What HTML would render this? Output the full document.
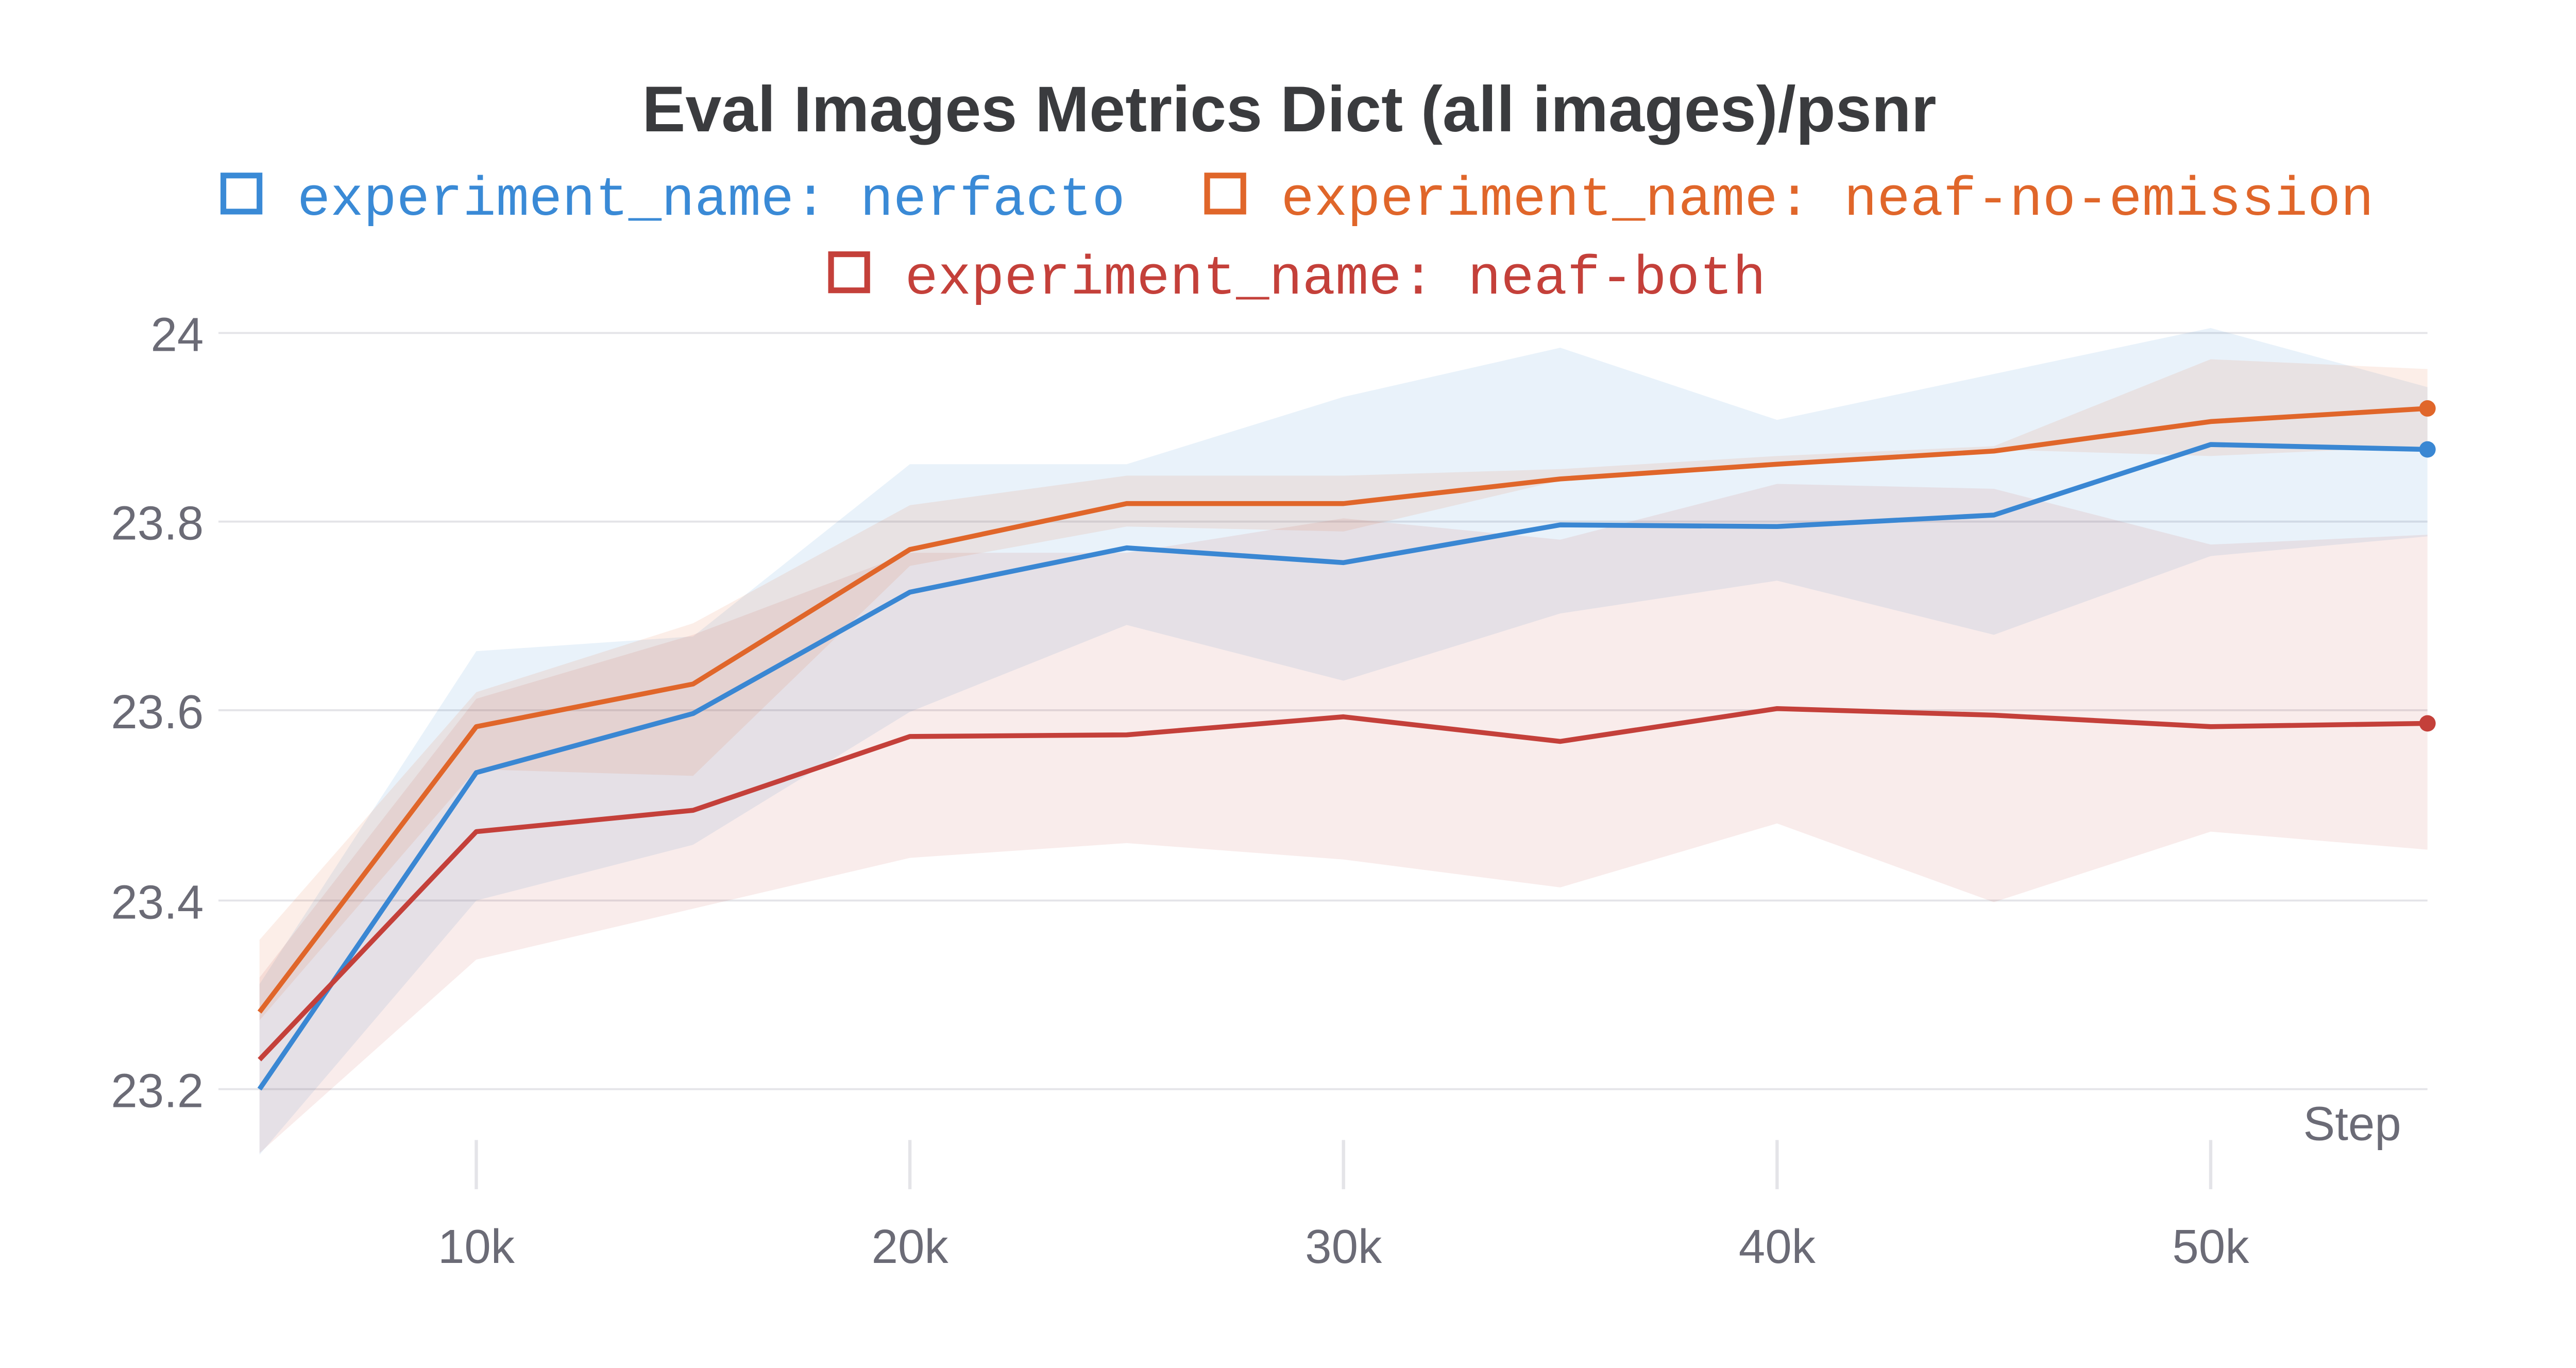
<!DOCTYPE html>
<html><head><meta charset="utf-8"><style>html,body{margin:0;padding:0;background:#fff}svg{display:block}</style></head>
<body>
<svg width="5056" height="2656" viewBox="0 0 1586 834" preserveAspectRatio="none" xmlns="http://www.w3.org/2000/svg">
<rect width="1586" height="834" fill="#fff"/>
<text x="785" y="80" text-anchor="middle" font-family="Liberation Sans, sans-serif" font-weight="bold" font-size="39.5" fill="#3a3b3e">Eval Images Metrics Dict (all images)/psnr</text>
<g font-family="Liberation Mono, monospace" font-size="33.6">
<rect x="136" y="107" width="22" height="22" fill="none" stroke="#3a8ad6" stroke-width="3.5"/>
<text x="181" y="131" fill="#3a8ad6">experiment_name: nerfacto</text>
<rect x="735" y="107" width="22" height="22" fill="none" stroke="#e0662a" stroke-width="3.5"/>
<text x="780" y="131" fill="#e0662a">experiment_name: neaf-no-emission</text>
<rect x="506" y="155" width="22" height="22" fill="none" stroke="#c4403a" stroke-width="3.5"/>
<text x="551" y="179" fill="#c4403a">experiment_name: neaf-both</text>
</g>
<g stroke="#e4e4e8" stroke-width="1.2">
<line x1="133" y1="203" x2="1478" y2="203"/><line x1="133" y1="318" x2="1478" y2="318"/>
<line x1="133" y1="433" x2="1478" y2="433"/><line x1="133" y1="549" x2="1478" y2="549"/>
<line x1="133" y1="664" x2="1478" y2="664"/>
</g>
<g stroke="#e4e4e8" stroke-width="2">
<line x1="290" y1="695" x2="290" y2="725"/><line x1="554" y1="695" x2="554" y2="725"/>
<line x1="818" y1="695" x2="818" y2="725"/><line x1="1082" y1="695" x2="1082" y2="725"/>
<line x1="1346" y1="695" x2="1346" y2="725"/>
</g>
<g font-family="Liberation Sans, sans-serif" font-size="29" fill="#6b6b76">
<text x="124" y="214" text-anchor="end">24</text>
<text x="124" y="329" text-anchor="end">23.8</text>
<text x="124" y="444" text-anchor="end">23.6</text>
<text x="124" y="560" text-anchor="end">23.4</text>
<text x="124" y="675" text-anchor="end">23.2</text>
<text x="1462" y="695" text-anchor="end">Step</text>
<g text-anchor="middle">
<text x="290" y="770">10k</text><text x="554" y="770">20k</text><text x="818" y="770">30k</text><text x="1082" y="770">40k</text><text x="1346" y="770">50k</text>
</g></g>
<polygon fill="rgba(58,135,211,0.11)" points="158,600 290,397 422,388 554,283 686,283 818,242 950,212 1082,256 1214,228 1346,200 1478,236 1478,327 1346,339 1214,387 1082,354 950,374 818,415 686,381 554,434 422,515 290,549 158,704"/>
<polygon fill="rgba(224,102,42,0.11)" points="158,573 290,422 422,380 554,308 686,290 818,290 950,286 1082,278 1214,272 1346,219 1478,225 1478,272 1346,278 1214,274 1082,282 950,293 818,324 686,321 554,345 422,473 290,469 158,622"/>
<polygon fill="rgba(196,64,58,0.10)" points="158,596 290,426 422,387 554,337 686,337 818,316 950,329 1082,295 1214,298 1346,332 1478,326 1478,518 1346,507 1214,550 1082,502 950,541 818,524 686,514 554,523 422,554 290,585 158,703"/>
<g fill="none" stroke-width="3" stroke-linejoin="round">
<polyline stroke="#3a87d3" points="158,664 290,471 422,435 554,361 686,334 818,343 950,320 1082,321 1214,314 1346,271 1478,274"/>
<polyline stroke="#e0662a" points="158,617 290,443 422,417 554,335 686,307 818,307 950,292 1082,283 1214,275 1346,257 1478,249"/>
<polyline stroke="#c4403a" points="158,646 290,507 422,494 554,449 686,448 818,437 950,452 1082,432 1214,436 1346,443 1478,441"/>
</g>
<circle cx="1478" cy="274" r="5" fill="#3a87d3"/>
<circle cx="1478" cy="249" r="5" fill="#e0662a"/>
<circle cx="1478" cy="441" r="5" fill="#c4403a"/>
</svg>
</body></html>
